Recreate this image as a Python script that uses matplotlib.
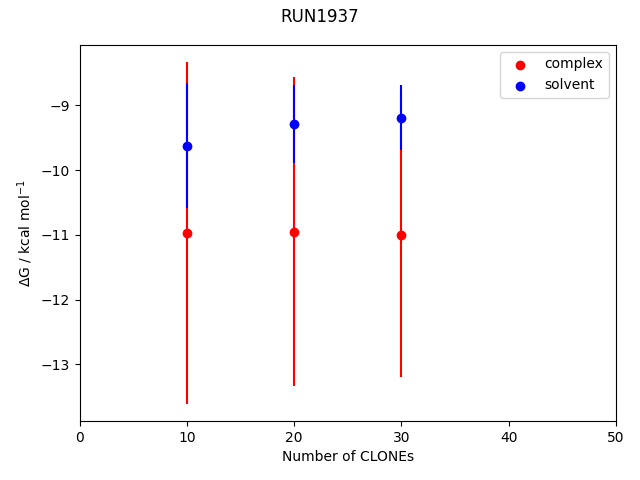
import matplotlib
matplotlib.use("Agg")
import matplotlib.pyplot as plt

clones = [10, 20, 30]
complex_dg = [-10.97, -10.95, -11.00]
complex_err = [2.64, 2.39, 2.20]
solvent_dg = [-9.62, -9.29, -9.19]
solvent_err = [0.96, 0.60, 0.50]

fig, ax = plt.subplots(figsize=(6.4, 4.8), dpi=100)
fig.suptitle("RUN1937", y=0.984)

ax.errorbar(clones, complex_dg, yerr=complex_err, fmt="none", ecolor="red")
ax.scatter(clones, complex_dg, color="red", label="complex")
ax.errorbar(clones, solvent_dg, yerr=solvent_err, fmt="none", ecolor="blue")
ax.scatter(clones, solvent_dg, color="blue", label="solvent")

ax.set_xlim(0, 50)
ax.set_xlabel("Number of CLONEs")
ax.set_ylabel(r"$\Delta$G / kcal mol$^{-1}$")
ax.legend(loc="upper right")

# layout matched to reference by eye
fig.subplots_adjust(left=0.1245, right=0.9625, top=0.9063, bottom=0.1229)
fig.savefig("out.png")
